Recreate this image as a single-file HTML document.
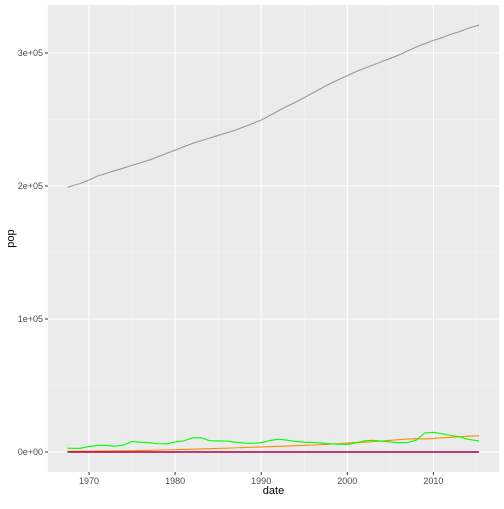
<!DOCTYPE html>
<html><head><meta charset="utf-8"><style>
body{margin:0;background:#fff}
svg text{font-family:"Liberation Sans",sans-serif}
</style></head><body>
<svg id="c" width="504" height="504"></svg>
<script>
const years=[1967.5,1968,1969,1970,1971,1972,1973,1974,1975,1976,1977,1978,1979,1980,1981,1982,1983,1984,1985,1986,1987,1988,1989,1990,1991,1992,1993,1994,1995,1996,1997,1998,1999,2000,2001,2002,2003,2004,2005,2006,2007,2008,2009,2010,2011,2012,2013,2014,2015.3];
const popK=[199,200,202,204.5,207.5,209.5,211.5,213.5,215.5,217.5,219.5,222,224.5,227,229.5,232,234,236,238,240,242,244.5,247,249.5,253,256.5,260,263,266.5,270,273.5,277,280,283,286,288.5,291,293.5,296,298.5,301.5,304.5,307,309.5,311.5,314,316,318.5,321];
const unempK=[2.9,2.8,2.8,4.1,5.0,4.9,4.4,5.2,7.9,7.4,7.0,6.2,6.1,7.6,8.3,10.7,10.7,8.5,8.3,8.2,7.4,6.7,6.5,7.0,8.6,9.6,8.9,8.0,7.4,7.2,6.7,6.2,5.9,5.7,6.8,8.4,8.8,8.1,7.6,7.0,7.1,8.9,14.3,14.8,13.7,12.5,11.5,9.6,8.3];
const pceK=[0.5,0.55,0.6,0.65,0.7,0.77,0.85,0.93,1.03,1.15,1.28,1.43,1.6,1.75,1.94,2.08,2.29,2.5,2.72,2.9,3.1,3.35,3.6,3.84,3.98,4.24,4.48,4.74,4.98,5.26,5.55,5.88,6.3,6.8,7.1,7.4,7.8,8.25,8.8,9.3,9.75,10.0,9.85,10.2,10.7,11.05,11.4,11.9,12.2];
const psavert=years.map(()=>0.01);
const uempmed=years.map(()=>0.008);
const xTicks=[1970,1980,1990,2000,2010];
const yTicks=[0,100,200,300];
const yLabels=["0e+00","1e+05","2e+05","3e+05"];
const L=48,R=499,T=5,B=472;
const x=v=>89+(v-1970)*8.61;
const y=v=>452-v*1.33;
const s=document.getElementById('c');const NS='http://www.w3.org/2000/svg';
function el(t,a,p){const e=document.createElementNS(NS,t);for(const k in a)e.setAttribute(k,a[k]);(p||s).appendChild(e);return e;}
const bg=el('rect',{x:L,y:T,width:R-L,height:B-T,fill:'#ebebeb'});


for(let i=0;i<xTicks.length;i++){const m=x(xTicks[i]+5);if(m<R)el('line',{x1:m,x2:m,y1:T,y2:B,stroke:'#f5f5f5','stroke-width':0.6});}
for(let i=0;i<yTicks.length;i++){const m=y(yTicks[i]+50);if(m>T)el('line',{x1:L,x2:R,y1:m,y2:m,stroke:'#f5f5f5','stroke-width':0.6});}
el('line',{x1:x(1965),x2:x(1965),y1:T,y2:B,stroke:'#f5f5f5','stroke-width':0.6});
xTicks.forEach(t=>{const m=x(t);el('line',{x1:m,x2:m,y1:T,y2:B,stroke:'#fff','stroke-width':1.1});el('line',{x1:m,x2:m,y1:B,y2:B+3,stroke:'#333'});
const tx=el('text',{x:m,y:B+12,'font-size':9,'text-anchor':'middle',fill:'#4d4d4d'});tx.textContent=t;

});
yTicks.forEach((t,i)=>{const m=y(t);el('line',{x1:L,x2:R,y1:m,y2:m,stroke:'#fff','stroke-width':1.1});el('line',{x1:L-3,x2:L,y1:m,y2:m,stroke:'#333'});
const tx=el('text',{x:L-5,y:m+3,'font-size':9,'text-anchor':'end',fill:'#4d4d4d'});tx.textContent=yLabels[i];

});
function line(vals,col,name,w){const p=el('polyline',{points:years.map((yr,i)=>x(yr)+','+y(vals[i])).join(' '),fill:'none',stroke:col,'stroke-width':w||1.1});

}
line(popK,'#999999','pop-line');
line(pceK,'#ff8c00','pce-line');
line(unempK,'#00ff00','unemploy-line');
line(psavert,'#ff0000','psavert-line',1.5);
line(uempmed,'#800080','uempmed-line',1.1);
const xt=el('text',{x:(L+R)/2,y:494,'font-size':11,'text-anchor':'middle',fill:'#000'});xt.textContent='date';


const yt=el('text',{x:14,y:(T+B)/2,'font-size':11,'text-anchor':'middle',fill:'#000',transform:`rotate(-90 14 ${(T+B)/2})`});yt.textContent='pop';


</script>
</body></html>
